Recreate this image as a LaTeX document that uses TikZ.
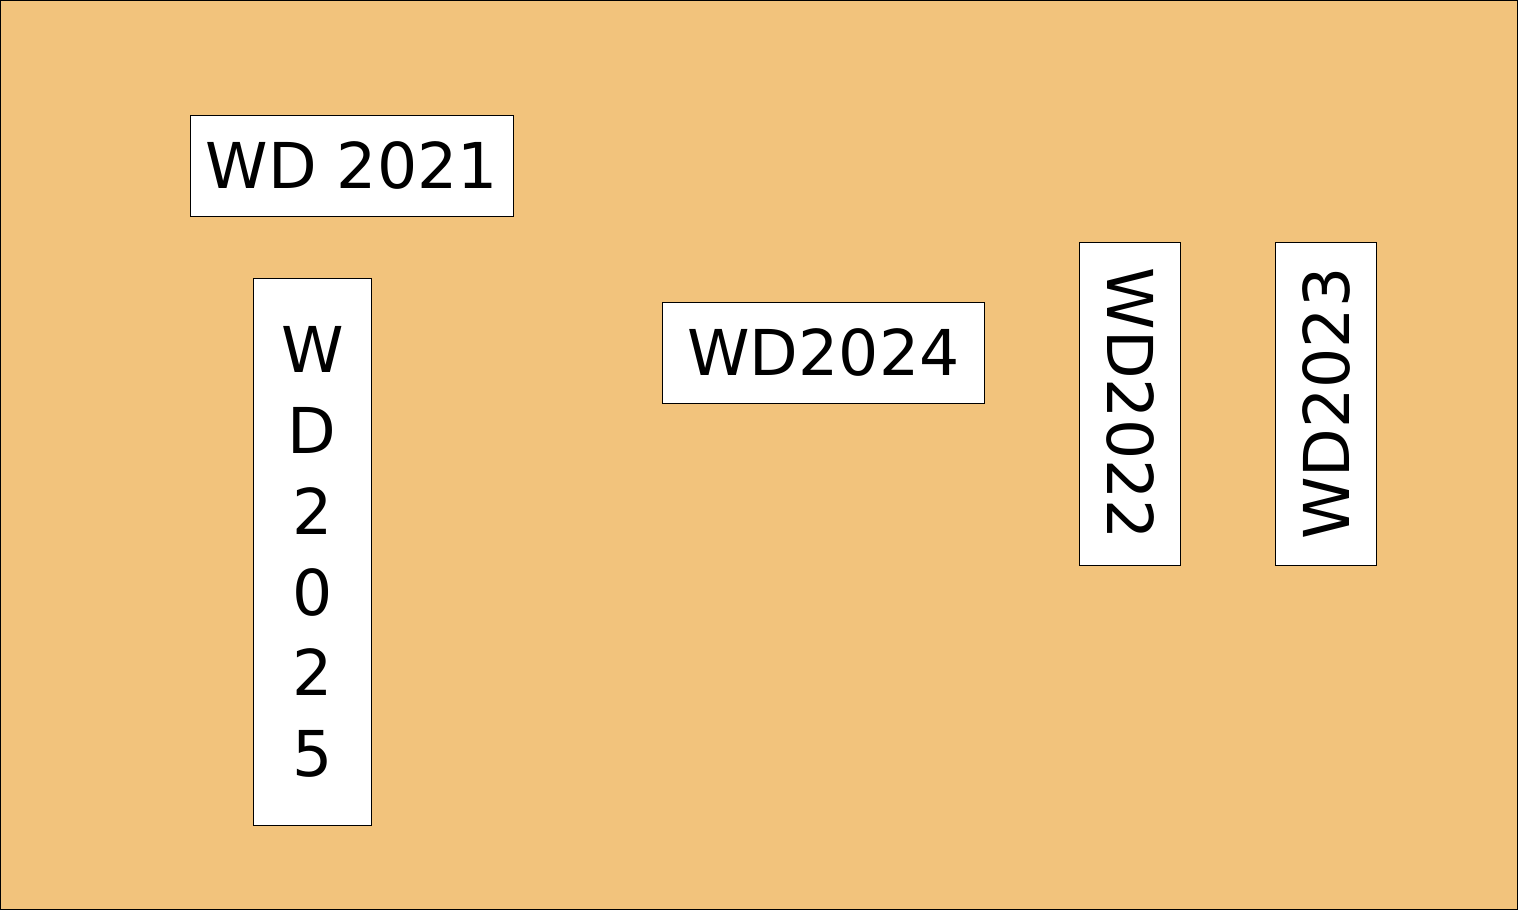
\documentclass[tikz,border=0pt]{standalone}
\usepackage{fontspec}
\setmainfont{DejaVu Sans}
\usepackage{xcolor}
\usetikzlibrary{positioning}
\definecolor{sandbg}{RGB}{242,195,124}
\tikzstyle{label box}=[draw=black,fill=white,line width=0.6pt,inner sep=0mm,font=\fontsize{36}{46}\selectfont]
\tikzstyle{wide box}=[label box,minimum width=6.46cm,minimum height=2.02cm]
\tikzstyle{tall box}=[label box,minimum width=2.36cm,minimum height=10.96cm,align=center]

\begin{document}
\begin{tikzpicture}
	\draw [fill=sandbg, line width=0.6pt] (0, 0) rectangle (30.36, -18.2);
	\node [style=wide box] (21) at (7.03, -3.31) {WD 2021};
	\node [style=tall box] (25) at (6.24, -11.04) {W\\D\\2\\0\\2\\5};
	\node [style=wide box] (24) at (16.47, -7.05) {WD2024};
	\node [style=wide box, rotate=-90] (22) at (22.61, -8.07) {WD2022};
	\node [style=wide box, rotate=90] (23) at (26.53, -8.07) {WD2023};
\end{tikzpicture}
\end{document}
